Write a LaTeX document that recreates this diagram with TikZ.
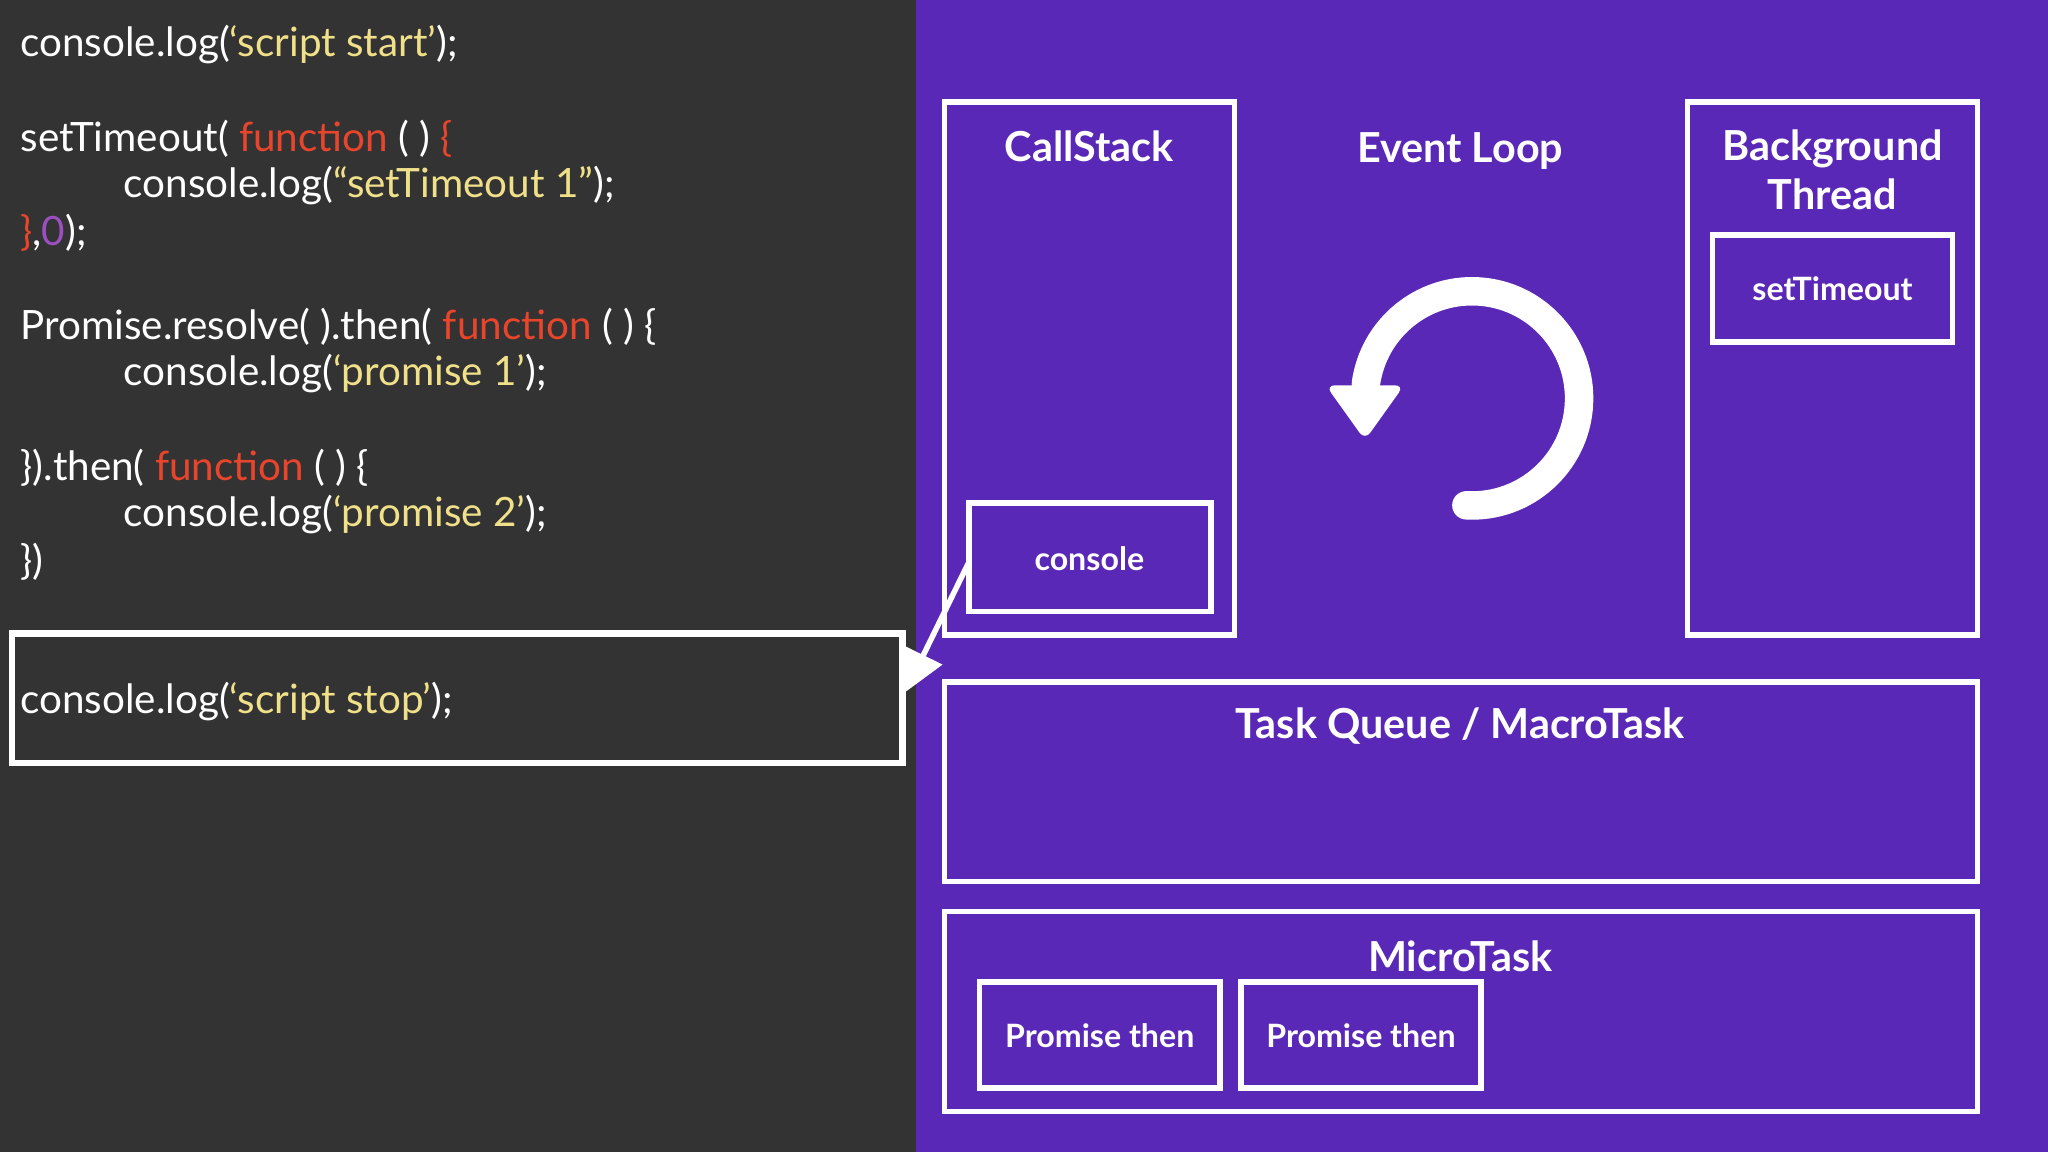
\documentclass[tikz,border=0pt]{standalone}
\usepackage{fontspec}
\setmainfont{Lato}
\usetikzlibrary{arrows.meta}
\definecolor{bgdark}{HTML}{333333}
\definecolor{bgpurple}{HTML}{5A28B6}
\definecolor{strc}{HTML}{F1E08A}
\definecolor{kwc}{HTML}{E8452C}
\definecolor{numc}{HTML}{9B4FC0}
\tikzset{
  code/.style={anchor=west, inner sep=0pt, text=white, font=\fontsize{8.8}{11}\selectfont},
  wbox/.style={draw=white, line width=1.2pt},
  title/.style={text=white, font=\bfseries\fontsize{9}{10.5}\selectfont, align=center},
  small/.style={text=white, font=\bfseries\fontsize{7}{8}\selectfont}
}
\newcommand{\str}[1]{\textcolor{strc}{#1}}
\newcommand{\kw}[1]{\textcolor{kwc}{#1}}
\begin{document}
\begin{tikzpicture}[x=0.01cm,y=-0.01cm]
\useasboundingbox (0,0) rectangle (1568,882);
\fill[bgdark] (0,0) rectangle (701,882);
\fill[bgpurple] (701,0) rectangle (1568,882);
% code
\node[code] (l1) at (15,34) {console.log(\str{‘script start’});};
\node[code] (l2) at (15,106) {setTimeout( \kw{function} ( ) \kw{\{}};
\node[code] (l3) at (94,142) {console.log(\str{“setTimeout 1”});};
\node[code] (l4) at (15,178) {\kw{\}},\textcolor{numc}{0});};
\node[code] (l5) at (15,250) {Promise.resolve( ).then( \kw{function} ( ) \{};
\node[code] (l6) at (94,286) {console.log(\str{‘promise 1’});};
\node[code] (l7) at (15,358) {\}).then( \kw{function} ( ) \{};
\node[code] (l8) at (94,394) {console.log(\str{‘promise 2’});};
\node[code] (l9) at (15,430) {\})};
\draw[wbox,line width=1.4pt] (9,485) rectangle (691,584);
\node[code] (l10) at (15,537) {console.log(\str{‘script stop’});};
\coordinate (stopR) at (693,530);
% callstack
\draw[wbox] (723,78) rectangle (945,486);
\node[title] (cs) at (834,112) {CallStack};
\draw[wbox] (742,385) rectangle (927,468);
\node[small] (con) at (834,428) {console};
\coordinate (conL) at (742,430);
\draw[white, line width=1.2pt, -{Triangle[length=9pt,width=9pt]}] (conL) -- (stopR);
% event loop
\node[title] (el) at (1118,116) {Event Loop};
\coordinate (ec) at (1127,305);
\draw[white, line width=6.2pt, line cap=round] ([shift={(93:82)}]ec) arc[start angle=93, end angle=-172, radius=82];
\fill[white, rounded corners=2pt] ([shift={(180:82)}]ec) ++(-30,-10) -- ++(60,0) -- ++(-30,42) -- cycle;
% background thread
\draw[wbox] (1292,78) rectangle (1514,486);
\node[title] (bt) at (1403,130) {Background\\Thread};
\draw[wbox] (1311,180) rectangle (1495,262);
\node[small] (st) at (1403,221) {setTimeout};
% task queue
\draw[wbox] (723,522) rectangle (1514,675);
\node[title] (tq) at (1118,556) {Task Queue / MacroTask};
% microtask
\draw[wbox] (723,698) rectangle (1514,851);
\node[title] (mt) at (1118,732) {MicroTask};
\draw[wbox] (750,752) rectangle (934,833);
\node[small] (p1) at (842,793) {Promise then};
\draw[wbox] (950,752) rectangle (1134,833);
\node[small] (p2) at (1042,793) {Promise then};
\end{tikzpicture}
\end{document}
